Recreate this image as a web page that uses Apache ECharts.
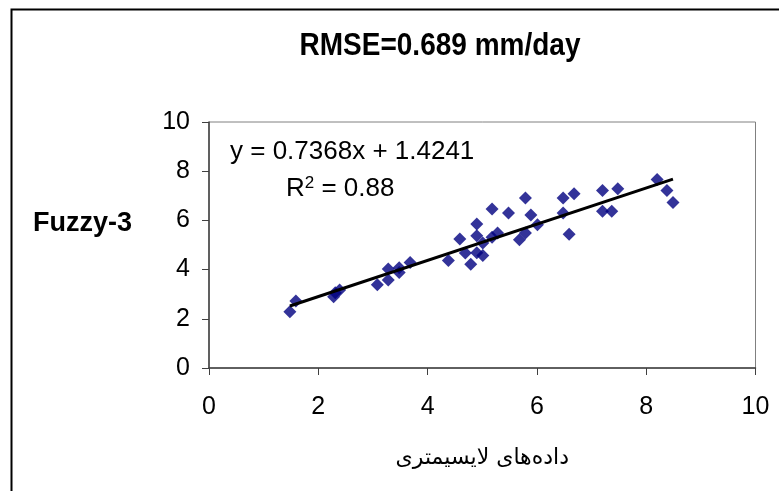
<!DOCTYPE html>
<html>
<head>
<meta charset="utf-8">
<script src="https://cdn.jsdelivr.net/npm/echarts@6/dist/echarts.min.js"></script>
<style>
  html, body { margin: 0; padding: 0; background: #fff; }
  #chart { width: 779px; height: 491px; }
</style>
</head>
<body>
<div id="chart"></div>
<script>
// داده‌های لایسیمتری (x) و خروجی مدل Fuzzy-3 (y)
const lysimeter = [1.48, 1.59, 2.28, 2.31, 2.39, 3.08, 3.28, 3.28, 3.48, 3.48,
  3.68, 4.38, 4.59, 4.69, 4.79, 4.90, 4.90, 4.90, 5.01, 5.01,
  5.18, 5.18, 5.28, 5.48, 5.68, 5.79, 5.79, 5.89, 6.01, 6.48,
  6.48, 6.59, 6.68, 7.20, 7.20, 7.37, 7.48, 8.20, 8.38, 8.49]
const fuzzy3 = [2.29, 2.72, 2.90, 3.06, 3.17, 3.38, 3.58, 4.02, 3.88, 4.08,
  4.29, 4.37, 5.24, 4.67, 4.22, 5.85, 5.38, 4.69, 4.57, 5.08,
  6.46, 5.31, 5.49, 6.30, 5.21, 6.91, 5.49, 6.22, 5.82, 6.91,
  6.30, 5.44, 7.08, 7.22, 6.37, 6.37, 7.29, 7.66, 7.22, 6.73]
// trendline ends as drawn in the picture
const trendX = [1.48, 8.49]
const trendY = [2.52, 7.68]
const axisTicks = [0, 2, 4, 6, 8, 10]

const chart = echarts.init(document.getElementById('chart'))

const points = lysimeter.map((x, i) => [x, fuzzy3[i]])
const trend = trendX.map((x, i) => [x, trendY[i]])

const option = {
  animation: false,
  textStyle: { fontFamily: 'Liberation Sans, Arial, sans-serif' },
  grid: { left: 209, right: 23.5, top: 122, bottom: 123, show: true, borderColor: '#808080', borderWidth: 1 },
  xAxis: {
    type: 'value', min: 0, max: 10, interval: 2,
    name: 'داده‌های لایسیمتری',
    nameLocation: 'middle', nameGap: 79,
    nameTextStyle: { fontFamily: 'DejaVu Sans', fontSize: 22, color: '#000' },
    axisLine: { show: true, onZero: false, lineStyle: { color: '#404040', width: 1.5 } },
    axisTick: { show: true, length: 7, lineStyle: { color: '#404040' } },
    axisLabel: { fontSize: 25, color: '#000', margin: 27, formatter: v => axisTicks.includes(v) ? String(v) : '' },
    splitLine: { show: false }
  },
  yAxis: {
    type: 'value', min: 0, max: 10, interval: 2,
    axisLine: { show: true, onZero: false, lineStyle: { color: '#404040', width: 1.5 } },
    axisTick: { show: true, length: 7, lineStyle: { color: '#404040' } },
    axisLabel: { fontSize: 25, color: '#000', margin: 19 },
    splitLine: { show: false }
  },
  series: [
    {
      type: 'scatter',
      data: points,
      symbol: 'diamond',
      symbolSize: [13, 13],
      itemStyle: { color: '#000080' },
      z: 2
    },
    {
      type: 'line',
      data: trend,
      showSymbol: false,
      lineStyle: { color: '#000', width: 3 },
      z: 3
    }
  ],
  graphic: [
    {
      type: 'rect', left: 9, top: 7, z: -1, silent: true,
      shape: { width: 800, height: 500 },
      style: { fill: 'none', stroke: '#000', lineWidth: 2 }
    },
    {
      type: 'text', x: 440, y: 47, scaleY: 1.1,
      style: {
        text: 'RMSE=0.689 mm/day', fontSize: 28, fontWeight: 'bold',
        fontFamily: 'Liberation Sans', fill: '#000', align: 'center', verticalAlign: 'middle'
      }
    },
    {
      type: 'text', x: 33, y: 224,
      style: {
        text: 'Fuzzy-3', fontSize: 27, fontWeight: 'bold',
        fontFamily: 'Liberation Sans', fill: '#000', align: 'left', verticalAlign: 'middle'
      }
    },
    {
      type: 'text', x: 230, y: 152,
      style: {
        text: 'y = 0.7368x + 1.4241', fontSize: 26,
        fontFamily: 'Liberation Sans', fill: '#000', align: 'left', verticalAlign: 'middle'
      }
    },
    {
      type: 'text', x: 286, y: 189,
      style: {
        text: 'R{sup|2} = 0.88',
        rich: { sup: { fontSize: 17, verticalAlign: 'top', padding: [0, 0, 12, 0], fontFamily: 'Liberation Sans' } },
        fontSize: 26, fontFamily: 'Liberation Sans', fill: '#000', align: 'left', verticalAlign: 'middle'
      }
    }
  ]
}

chart.setOption(option)
</script>
</body>
</html>
